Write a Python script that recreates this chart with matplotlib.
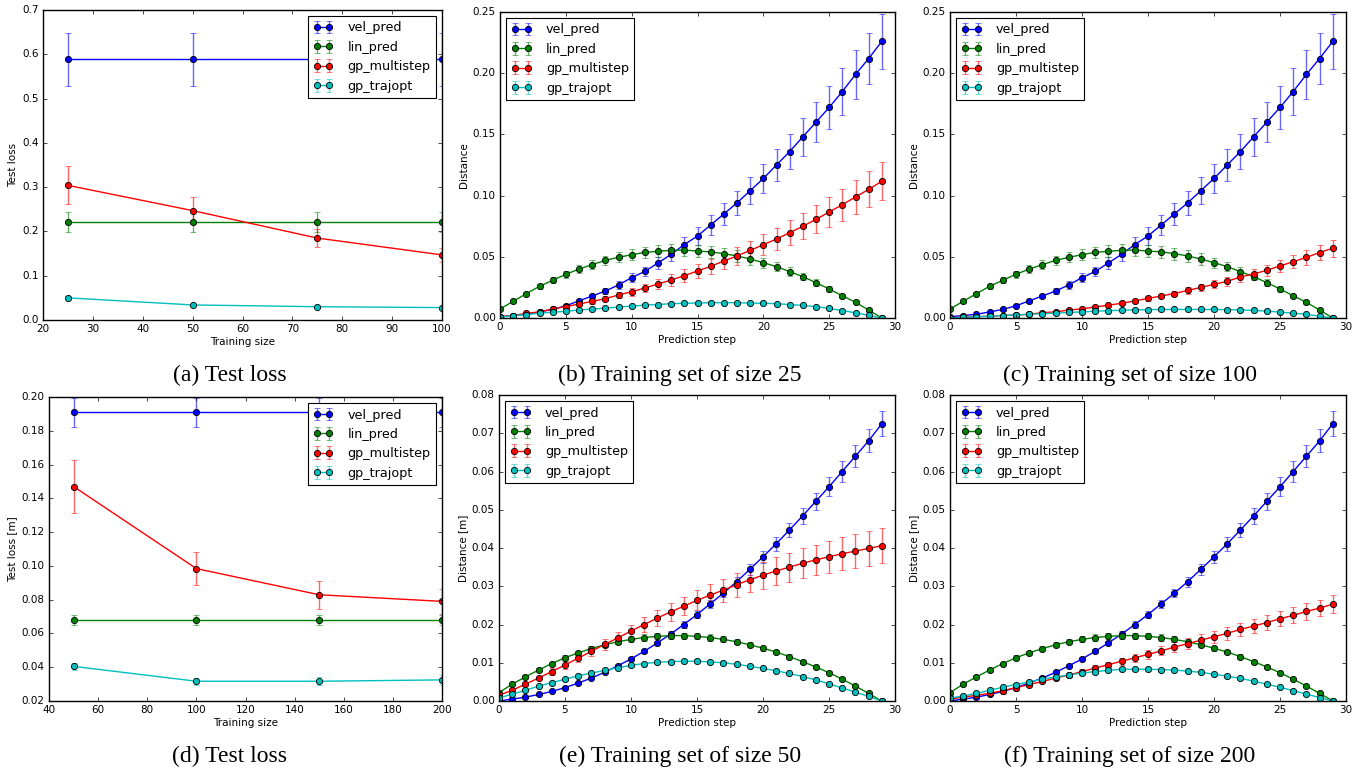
import numpy as np
import matplotlib
matplotlib.use("Agg")
import matplotlib.pyplot as plt
from matplotlib.ticker import FormatStrFormatter, MultipleLocator

plt.style.use('classic')
plt.rcParams['figure.facecolor'] = 'white'
plt.rcParams['savefig.facecolor'] = 'white'
plt.rcParams['font.family'] = ['DejaVu Sans']

names = ['vel_pred', 'lin_pred', 'gp_multistep', 'gp_trajopt']
colours = ['b', 'g', 'r', 'c']

# ---- (a) test loss, small training sets
size_a = [25, 50, 75, 100]
loss_a = {
    'vel_pred': [0.589, 0.589, 0.589, 0.589],
    'lin_pred': [0.221, 0.221, 0.221, 0.221],
    'gp_multistep': [0.304, 0.247, 0.185, 0.147],
    'gp_trajopt': [0.050, 0.034, 0.030, 0.028],
}
err_a = {
    'vel_pred': [0.060, 0.060, 0.060, 0.060],
    'lin_pred': [0.022, 0.022, 0.022, 0.022],
    'gp_multistep': [0.043, 0.031, 0.020, 0.016],
    'gp_trajopt': [0.005, 0.003, 0.003, 0.003],
}

# ---- (d) test loss, larger training sets
size_d = [50, 100, 150, 200]
loss_d = {
    'vel_pred': [0.191, 0.191, 0.191, 0.191],
    'lin_pred': [0.068, 0.068, 0.068, 0.068],
    'gp_multistep': [0.147, 0.0984, 0.0829, 0.079],
    'gp_trajopt': [0.0405, 0.0317, 0.0317, 0.0325],
}
err_d = {
    'vel_pred': [0.0085, 0.0085, 0.0085, 0.0085],
    'lin_pred': [0.003, 0.003, 0.003, 0.003],
    'gp_multistep': [0.0157, 0.010, 0.0083, 0.0075],
    'gp_trajopt': [0.002, 0.002, 0.0025, 0.003],
}

steps = list(range(30))

# distance per prediction step, first dataset (b, c)
vel_1 = [0.001, 0.002, 0.003, 0.005, 0.007, 0.010, 0.014, 0.018, 0.022, 0.027,
         0.033, 0.038, 0.045, 0.052, 0.060, 0.067, 0.076, 0.085, 0.094, 0.104,
         0.114, 0.125, 0.136, 0.148, 0.160, 0.172, 0.185, 0.199, 0.212, 0.226]
vel_1_err = [0.0002, 0.0003, 0.0005, 0.0008, 0.001, 0.0012, 0.0016, 0.002, 0.0025, 0.003,
             0.0035, 0.004, 0.0047, 0.0055, 0.0064, 0.0075, 0.0083, 0.009, 0.010, 0.011,
             0.012, 0.013, 0.0145, 0.0155, 0.0165, 0.0175, 0.019, 0.020, 0.021, 0.0225]
lin_1 = [0.0074, 0.0136, 0.0199, 0.0259, 0.0308, 0.0357, 0.040, 0.0436, 0.0471, 0.0496,
         0.0517, 0.0536, 0.0545, 0.0553, 0.0555, 0.0547, 0.054, 0.0526, 0.0507, 0.0482,
         0.0452, 0.042, 0.0379, 0.0338, 0.0289, 0.0237, 0.0182, 0.0128, 0.0065, 0.0]
lin_1_err = [0.0005, 0.001, 0.0015, 0.002, 0.0025, 0.003, 0.0033, 0.0036, 0.0039, 0.0042,
             0.0045, 0.0047, 0.0049, 0.005, 0.005, 0.005, 0.005, 0.0049, 0.0047, 0.0045,
             0.0042, 0.0039, 0.0035, 0.0031, 0.0027, 0.0022, 0.0017, 0.0012, 0.0006, 0.0]
gpm_b = [0.001, 0.002, 0.0038, 0.005, 0.0074, 0.0093, 0.0114, 0.0136, 0.0158, 0.0188,
         0.0215, 0.0245, 0.0278, 0.031, 0.0346, 0.0384, 0.0422, 0.0466, 0.0507, 0.0553,
         0.0599, 0.0645, 0.0697, 0.0749, 0.0806, 0.0866, 0.0926, 0.0989, 0.1051, 0.1117]
gpm_b_err = [0.0002, 0.0004, 0.0006, 0.0008, 0.001, 0.0013, 0.0016, 0.0019, 0.0022, 0.0026,
             0.0032, 0.0036, 0.0041, 0.0046, 0.0051, 0.0056, 0.0062, 0.0067, 0.0073, 0.0079,
             0.0086, 0.0093, 0.010, 0.0107, 0.0115, 0.0123, 0.0131, 0.0139, 0.0147, 0.0155]
gpt_b = [0.0005, 0.002, 0.0027, 0.004, 0.0047, 0.0055, 0.0065, 0.0073, 0.008, 0.009,
         0.0097, 0.0105, 0.011, 0.0117, 0.012, 0.0122, 0.0125, 0.0125, 0.0125, 0.0122,
         0.012, 0.0117, 0.011, 0.0103, 0.0092, 0.0078, 0.006, 0.0043, 0.0022, 0.0]
gpt_b_err = [0.0001, 0.0002, 0.0003, 0.0004, 0.0004, 0.0005, 0.0005, 0.0006, 0.0006, 0.0007,
             0.0007, 0.0007, 0.0008, 0.0008, 0.0008, 0.0008, 0.0008, 0.0008, 0.0008, 0.0008,
             0.0008, 0.0008, 0.0007, 0.0007, 0.0006, 0.0005, 0.0004, 0.0003, 0.0002, 0.0]
gpm_c = [0.0003, 0.0006, 0.001, 0.0015, 0.002, 0.0025, 0.003, 0.0044, 0.005, 0.0065,
         0.0075, 0.009, 0.0105, 0.012, 0.014, 0.016, 0.018, 0.020, 0.0225, 0.025,
         0.0275, 0.030, 0.0335, 0.036, 0.039, 0.0425, 0.046, 0.0495, 0.0535, 0.057]
gpm_c_err = [0.0001, 0.0001, 0.0002, 0.0002, 0.0003, 0.0003, 0.0004, 0.0005, 0.0006, 0.0007,
             0.0009, 0.001, 0.0012, 0.0014, 0.0016, 0.0018, 0.002, 0.0023, 0.0026, 0.0029,
             0.0032, 0.0035, 0.0039, 0.0043, 0.0047, 0.0051, 0.0055, 0.0059, 0.0063, 0.0068]
gpt_c = [0.0, 0.0005, 0.001, 0.0015, 0.002, 0.0025, 0.003, 0.0035, 0.004, 0.0045,
         0.005, 0.0055, 0.006, 0.0063, 0.0066, 0.0068, 0.007, 0.007, 0.007, 0.007,
         0.007, 0.0068, 0.0066, 0.0062, 0.0056, 0.0048, 0.004, 0.003, 0.0015, 0.0]
gpt_c_err = [0.0, 0.0001, 0.0001, 0.0002, 0.0002, 0.0003, 0.0003, 0.0003, 0.0004, 0.0004,
             0.0004, 0.0004, 0.0005, 0.0005, 0.0005, 0.0005, 0.0005, 0.0005, 0.0005, 0.0005,
             0.0005, 0.0005, 0.0004, 0.0004, 0.0004, 0.0003, 0.0003, 0.0002, 0.0001, 0.0]

# distance per prediction step, second dataset (e, f)
vel_2 = [0.0, 0.0005, 0.001, 0.0017, 0.0025, 0.0035, 0.0047, 0.006, 0.0075, 0.0092,
         0.011, 0.013, 0.0152, 0.0175, 0.020, 0.0226, 0.0254, 0.0282, 0.0312, 0.0344,
         0.0377, 0.0411, 0.0447, 0.0484, 0.0522, 0.056, 0.060, 0.064, 0.068, 0.0725]
vel_2_err = [0.0, 0.0001, 0.0001, 0.0001, 0.0002, 0.0002, 0.0002, 0.0003, 0.0003, 0.0004,
             0.0004, 0.0005, 0.0006, 0.0007, 0.0008, 0.0009, 0.001, 0.0011, 0.0013, 0.0014,
             0.0016, 0.0018, 0.0019, 0.0021, 0.0023, 0.0025, 0.0027, 0.0028, 0.003, 0.0032]
lin_2 = [0.0022, 0.0044, 0.0063, 0.0081, 0.0098, 0.0113, 0.0126, 0.0137, 0.0147, 0.0155,
         0.0161, 0.0166, 0.0169, 0.0171, 0.0171, 0.0169, 0.0166, 0.0161, 0.0155, 0.0147,
         0.0138, 0.0128, 0.0116, 0.0103, 0.0089, 0.0074, 0.0057, 0.0039, 0.002, 0.0]
lin_2_err = [0.0002, 0.0003, 0.0004, 0.0005, 0.0005, 0.0006, 0.0006, 0.0007, 0.0007, 0.0007,
             0.0008, 0.0008, 0.0008, 0.0008, 0.0008, 0.0008, 0.0008, 0.0008, 0.0007, 0.0007,
             0.0007, 0.0006, 0.0006, 0.0005, 0.0005, 0.0004, 0.0003, 0.0002, 0.0001, 0.0]
gpm_e = [0.0015, 0.0028, 0.0044, 0.006, 0.0077, 0.0094, 0.0112, 0.013, 0.0148, 0.0165,
         0.0183, 0.020, 0.0217, 0.0233, 0.0248, 0.0263, 0.0277, 0.029, 0.0304, 0.0317,
         0.0329, 0.034, 0.035, 0.036, 0.0369, 0.0377, 0.0385, 0.0392, 0.0399, 0.0406]
gpm_e_err = [0.0002, 0.0003, 0.0005, 0.0006, 0.0008, 0.001, 0.0011, 0.0013, 0.0014, 0.0016,
             0.0017, 0.0019, 0.0021, 0.0023, 0.0024, 0.0026, 0.0028, 0.003, 0.0031, 0.0033,
             0.0035, 0.0036, 0.0038, 0.0039, 0.004, 0.0042, 0.0043, 0.0044, 0.0045, 0.0046]
gpt_e = [0.0008, 0.0018, 0.0028, 0.0039, 0.0048, 0.0057, 0.0066, 0.0073, 0.008, 0.0087,
         0.0093, 0.0098, 0.0101, 0.0103, 0.0104, 0.0104, 0.0102, 0.010, 0.0096, 0.0091,
         0.0085, 0.0079, 0.0072, 0.0064, 0.0055, 0.0045, 0.0034, 0.0023, 0.0012, 0.0]
gpt_e_err = [0.0001, 0.0002, 0.0002, 0.0003, 0.0003, 0.0003, 0.0004, 0.0004, 0.0004, 0.0004,
             0.0004, 0.0005, 0.0005, 0.0005, 0.0005, 0.0005, 0.0005, 0.0005, 0.0004, 0.0004,
             0.0004, 0.0004, 0.0004, 0.0003, 0.0003, 0.0003, 0.0002, 0.0002, 0.0001, 0.0]
gpm_f = [0.0005, 0.001, 0.0015, 0.002, 0.0027, 0.0035, 0.0043, 0.0051, 0.006, 0.0068,
         0.0077, 0.0086, 0.0095, 0.0104, 0.0113, 0.0122, 0.0131, 0.0141, 0.015, 0.0159,
         0.0168, 0.0177, 0.0187, 0.0196, 0.0205, 0.0215, 0.0224, 0.0234, 0.0243, 0.0253]
gpm_f_err = [0.0001, 0.0001, 0.0002, 0.0002, 0.0003, 0.0003, 0.0004, 0.0004, 0.0005, 0.0006,
             0.0006, 0.0007, 0.0008, 0.0009, 0.001, 0.0011, 0.0012, 0.0013, 0.0014, 0.0015,
             0.0016, 0.0017, 0.0018, 0.0019, 0.0019, 0.002, 0.0021, 0.0022, 0.0022, 0.0023]
gpt_f = [0.0008, 0.0013, 0.002, 0.0028, 0.0036, 0.0043, 0.005, 0.0057, 0.0063, 0.0068,
         0.0073, 0.0077, 0.008, 0.0083, 0.0083, 0.0083, 0.0082, 0.0081, 0.0078, 0.0075,
         0.007, 0.0065, 0.0059, 0.0052, 0.0044, 0.0036, 0.0027, 0.0018, 0.0009, 0.0]
gpt_f_err = [0.0001, 0.0002, 0.0002, 0.0003, 0.0003, 0.0003, 0.0004, 0.0004, 0.0004, 0.0004,
             0.0004, 0.0004, 0.0005, 0.0005, 0.0005, 0.0005, 0.0005, 0.0005, 0.0004, 0.0004,
             0.0004, 0.0004, 0.0004, 0.0003, 0.0003, 0.0003, 0.0002, 0.0002, 0.0001, 0.0]

captions = ['(a) Test loss', '(b) Training set of size 25', '(c) Training set of size 100',
            '(d) Test loss', '(e) Training set of size 50', '(f) Training set of size 200']

W, H = 1369, 774
fig = plt.figure(figsize=(W / 100, H / 100), dpi=100)


def px_axes(l, t, r, b):
    return fig.add_axes([l / W, 1 - b / H, (r - l) / W, (b - t) / H])


def draw(ax, x, ys, errs, xlim, ylim, xlabel, ylabel, loc):
    for name, c in zip(names, colours):
        ln, caps, bars = ax.errorbar(x, ys[name], yerr=errs[name], color=c, marker='o',
                                     markersize=4.5, markeredgewidth=0.6, markeredgecolor='k',
                                     linewidth=1.0, capsize=2.5, elinewidth=1.0, label=name)
        for cl in caps:
            cl.set_alpha(0.6)
        for bl in bars:
            bl.set_alpha(0.6)
    ax.set_xlim(xlim)
    ax.set_ylim(ylim)
    ax.set_xlabel(xlabel, fontsize=7.5, labelpad=2)
    ax.set_ylabel(ylabel, fontsize=7.5, labelpad=3)
    ax.tick_params(labelsize=7.5, length=3, pad=3)
    leg = ax.legend(loc=loc, fontsize=9.2, numpoints=2, handlelength=1.6, handletextpad=1.1,
                    borderpad=0.4, labelspacing=0.5, borderaxespad=0.5)
    leg.get_frame().set_linewidth(0.8)


# top row
ax_a = px_axes(43, 10, 442, 320)
draw(ax_a, size_a, loss_a, err_a, (20, 100), (0, 0.7), 'Training size', 'Test loss', 'upper right')
ax_a.yaxis.set_major_formatter(FormatStrFormatter('%.1f'))

ax_b = px_axes(500, 12, 895, 318)
draw(ax_b, steps,
     {'vel_pred': vel_1, 'lin_pred': lin_1, 'gp_multistep': gpm_b, 'gp_trajopt': gpt_b},
     {'vel_pred': vel_1_err, 'lin_pred': lin_1_err, 'gp_multistep': gpm_b_err, 'gp_trajopt': gpt_b_err},
     (0, 30), (0, 0.25), 'Prediction step', 'Distance', 'upper left')
ax_b.yaxis.set_major_formatter(FormatStrFormatter('%.2f'))

ax_c = px_axes(950, 12, 1346, 318)
draw(ax_c, steps,
     {'vel_pred': vel_1, 'lin_pred': lin_1, 'gp_multistep': gpm_c, 'gp_trajopt': gpt_c},
     {'vel_pred': vel_1_err, 'lin_pred': lin_1_err, 'gp_multistep': gpm_c_err, 'gp_trajopt': gpt_c_err},
     (0, 30), (0, 0.25), 'Prediction step', 'Distance', 'upper left')
ax_c.yaxis.set_major_formatter(FormatStrFormatter('%.2f'))

# bottom row
ax_d = px_axes(49, 397, 442, 701)
draw(ax_d, size_d, loss_d, err_d, (40, 200), (0.02, 0.20), 'Training size', 'Test loss [m]', 'upper right')
ax_d.yaxis.set_major_locator(MultipleLocator(0.02))
ax_d.yaxis.set_major_formatter(FormatStrFormatter('%.2f'))

ax_e = px_axes(499, 395, 895, 701)
draw(ax_e, steps,
     {'vel_pred': vel_2, 'lin_pred': lin_2, 'gp_multistep': gpm_e, 'gp_trajopt': gpt_e},
     {'vel_pred': vel_2_err, 'lin_pred': lin_2_err, 'gp_multistep': gpm_e_err, 'gp_trajopt': gpt_e_err},
     (0, 30), (0, 0.08), 'Prediction step', 'Distance [m]', 'upper left')
ax_e.yaxis.set_major_formatter(FormatStrFormatter('%.2f'))

ax_f = px_axes(950, 395, 1346, 701)
draw(ax_f, steps,
     {'vel_pred': vel_2, 'lin_pred': lin_2, 'gp_multistep': gpm_f, 'gp_trajopt': gpt_f},
     {'vel_pred': vel_2_err, 'lin_pred': lin_2_err, 'gp_multistep': gpm_f_err, 'gp_trajopt': gpt_f_err},
     (0, 30), (0, 0.08), 'Prediction step', 'Distance [m]', 'upper left')
ax_f.yaxis.set_major_formatter(FormatStrFormatter('%.2f'))

# captions under each panel
cap_x = [230, 680, 1130, 230, 680, 1130]
cap_y = [375, 375, 375, 756, 756, 756]
for txt, cx, cy in zip(captions, cap_x, cap_y):
    fig.text(cx / W, 1 - cy / H, txt, ha='center', va='center', fontsize=17,
             family=['Liberation Serif', 'DejaVu Serif'])

fig.savefig('out.png', dpi=100)
